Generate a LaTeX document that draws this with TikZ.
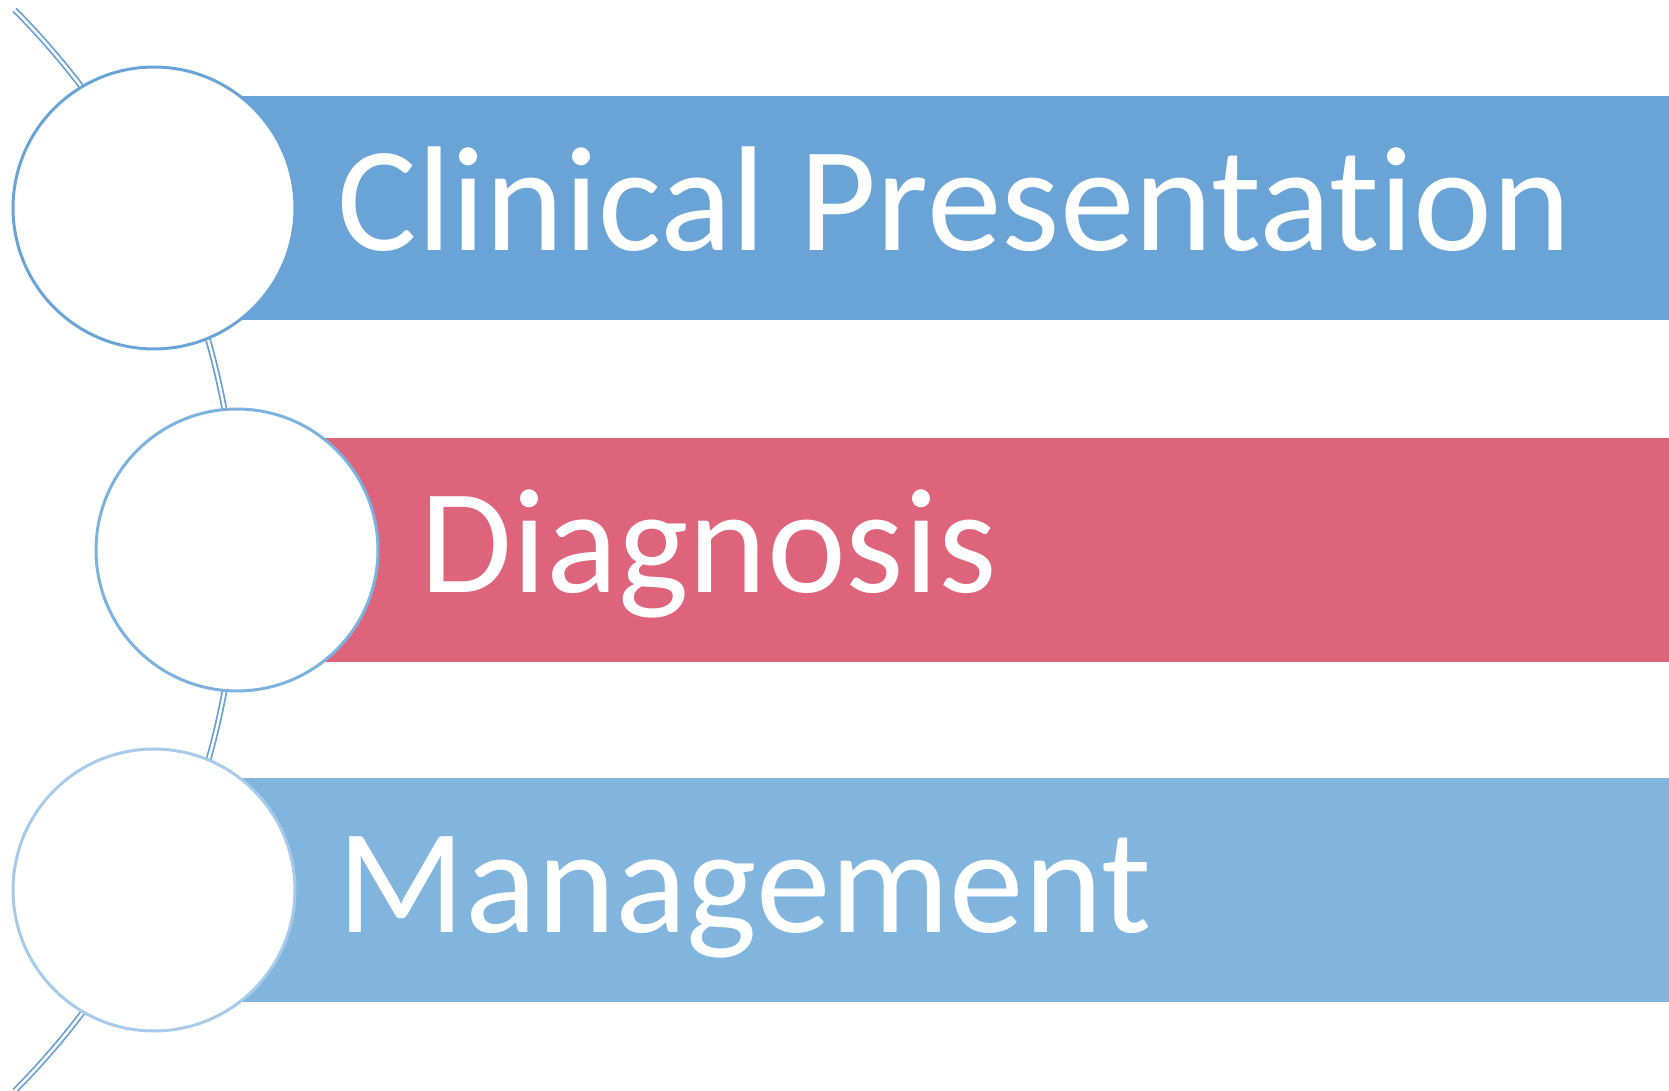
\documentclass[tikz,border=0pt]{standalone}
\usepackage{fontspec}
\setmainfont{Carlito}[Ligatures=NoCommon]

\definecolor{bandA}{RGB}{106,164,215}
\definecolor{bandB}{RGB}{221,100,122}
\definecolor{bandC}{RGB}{129,181,221}
\definecolor{ringA}{RGB}{106,164,215}
\definecolor{ringB}{RGB}{125,177,222}
\definecolor{ringC}{RGB}{167,201,234}
\definecolor{spinecol}{RGB}{106,160,212}

\tikzset{
  ring/.style={circle, draw=#1, line width=1.7pt, fill=white, minimum size=5.64cm, inner sep=0pt},
  band/.style={rectangle, fill=#1, minimum height=4.5cm, inner sep=0pt, anchor=west},
  steptext/.style={anchor=base west, text=white, inner sep=0pt, font=\fontsize{85}{92}\selectfont},
  spine/.style={draw=spinecol, line width=1pt, double=white, double distance=1.4pt}
}

\begin{document}
\begin{tikzpicture}[x=0.02cm,y=0.02cm]
\useasboundingbox (0,0) rectangle (1669,1091);

% the curved line behind the circles
\coordinate (spinetop) at (14.7,1081);
\draw[spine] (spinetop) arc[start angle=44.8, end angle=-44.8, radius=767];

\foreach \i/\x/\y/\w/\fillc/\ringc/\txt in {
  1/154/883/30.3cm/bandA/ringA/Clinical Presentation,
  2/237/541/28.64cm/bandB/ringB/Diagnosis,
  3/154/201/30.3cm/bandC/ringC/Management}
{
\node[band=\fillc, minimum width=\w] (band\i) at (\x,\y) {};
\node[ring=\ringc] (circ\i) at (\x,\y) {};
\node[steptext] (label\i) at ([shift={(41,-43)}]circ\i.east) {\txt};
}
\end{tikzpicture}
\end{document}
